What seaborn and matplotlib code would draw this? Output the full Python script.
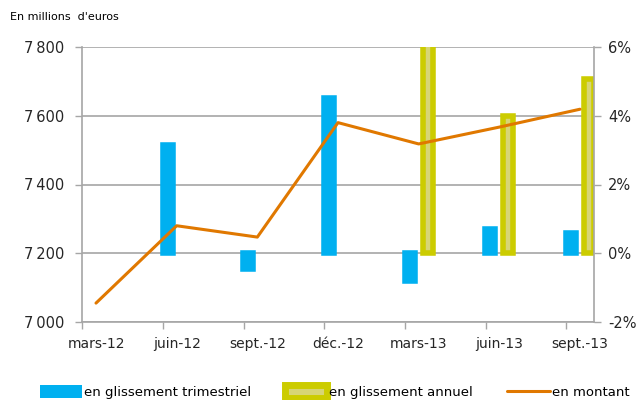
import numpy as np
import pandas as pd
import matplotlib
matplotlib.use("Agg")
import matplotlib.pyplot as plt
from matplotlib.patches import Patch
from matplotlib.lines import Line2D
import seaborn as sns

# ---- data ----
categories = ["mars-12", "juin-12", "sept.-12", "déc.-12", "mars-13", "juin-13", "sept.-13"]
montant = [7055, 7280, 7247, 7580, 7518, 7567, 7619]            # millions d'euros
gliss_trim = [np.nan, 3.16, -0.47, 4.53, -0.80, 0.70, 0.59]     # %
gliss_annuel = [np.nan, np.nan, np.nan, np.nan, 6.5, 4.0, 5.07] # %
left_ticks = [7000, 7200, 7400, 7600, 7800]
right_ticks = [-2, 0, 2, 4, 6]
series_names = ["en glissement trimestriel", "en glissement annuel", "en montant"]

BLUE = "#00B0F0"
YELLOW = "#CCCC00"
STRIPE = "#D7D575"
ORANGE = "#E07800"
GRID = "#A6A6A6"

sns.set_theme(style="white")
plt.rcParams["font.family"] = ["DejaVu Sans"]
plt.rcParams["text.color"] = "#000000"

pos = np.arange(len(categories))
bars = pd.DataFrame({
    "cat": categories * 2,
    "type": [series_names[0]] * len(categories) + [series_names[1]] * len(categories),
    "val": gliss_trim + gliss_annuel,
})
line = pd.DataFrame({"pos": pos, "montant": montant})

fig = plt.figure(figsize=(6.37, 4.0), dpi=100)
axb = fig.add_axes([82 / 637, 1 - 322 / 400, (594 - 82) / 637, (322 - 47) / 400])
axl = axb.twinx()

# bars on percentage axis (right)
sns.barplot(data=bars, x="cat", y="val", hue="type", order=categories,
            hue_order=series_names[:2], palette=[BLUE, YELLOW],
            width=0.44, gap=0.44, errorbar=None, legend=False, ax=axb,
            linewidth=4, saturation=1)
for p in axb.patches:
    fc = p.get_facecolor()
    if abs(fc[0] - matplotlib.colors.to_rgba(YELLOW)[0]) < 0.02 and fc[2] < 0.1:
        p.set_facecolor(STRIPE)
        p.set_edgecolor(YELLOW)
    else:
        p.set_edgecolor(BLUE)
    p.set_linewidth(4)

# line on amount axis (left)
sns.lineplot(data=line, x="pos", y="montant", ax=axl, color=ORANGE, linewidth=2.2)

# put amount axis on the left, percentage axis on the right
axl.yaxis.tick_left()
axl.yaxis.set_label_position("left")
axb.yaxis.tick_right()
axb.yaxis.set_label_position("right")

axb.set_ylim(-2, 6)
axb.set_yticks(right_ticks)
axb.set_yticklabels([f"{t}%" for t in right_ticks])
axl.set_ylim(7000, 7800)
axl.set_yticks(left_ticks)
axl.set_yticklabels([f"{t:,}".replace(",", "\u2009") for t in left_ticks])

axb.set_xlim(-0.1736, len(categories) - 1 + 0.1736)
axb.set_xticks(pos - 0.17)
axb.set_xticklabels([])
axb.set_xticks(pos, minor=True)
axb.set_xticklabels(categories, minor=True)
axb.tick_params(axis="x", which="major", bottom=True, length=5, width=1, color=GRID)
axb.tick_params(axis="x", which="minor", bottom=True, length=0, labelsize=10, pad=11)

for a in (axb, axl):
    a.set_xlabel("")
    a.set_ylabel("")
    for s in a.spines.values():
        s.set_visible(False)

axb.grid(False)
axl.grid(False)
axb.set_axisbelow(True)
axb.yaxis.grid(True, color=GRID, linewidth=1.2)

axb.spines["bottom"].set_visible(True)
axb.spines["bottom"].set_color(GRID)
axb.spines["right"].set_visible(True)
axb.spines["right"].set_color(GRID)
axl.spines["left"].set_visible(True)
axl.spines["left"].set_color(GRID)
for s in ("bottom", "right", "left"):
    for a in (axb, axl):
        a.spines[s].set_linewidth(1.2)

axb.tick_params(axis="y", which="major", right=True, left=False, length=5, width=1,
                color=GRID, labelsize=10.5, pad=5)
axl.tick_params(axis="y", which="major", left=True, right=False, length=5, width=1,
                color=GRID, labelsize=10.5, pad=8)

fig.text(10 / 637, 1 - 17 / 400, "En millions  d'euros", fontsize=8, va="center", ha="left")

handles = [
    Patch(facecolor=BLUE, edgecolor=BLUE, linewidth=0),
    Patch(facecolor=STRIPE, edgecolor=YELLOW, linewidth=5),
    Line2D([0], [0], color=ORANGE, linewidth=2.2),
]
fig.legend(handles, series_names, loc="center", bbox_to_anchor=(0.525, 1 - 392 / 400),
           ncol=3, frameon=False, fontsize=9.5, handlelength=3.2, handleheight=1.1,
           handletextpad=0.15, columnspacing=2.6)

fig.savefig("out.png", dpi=100)
